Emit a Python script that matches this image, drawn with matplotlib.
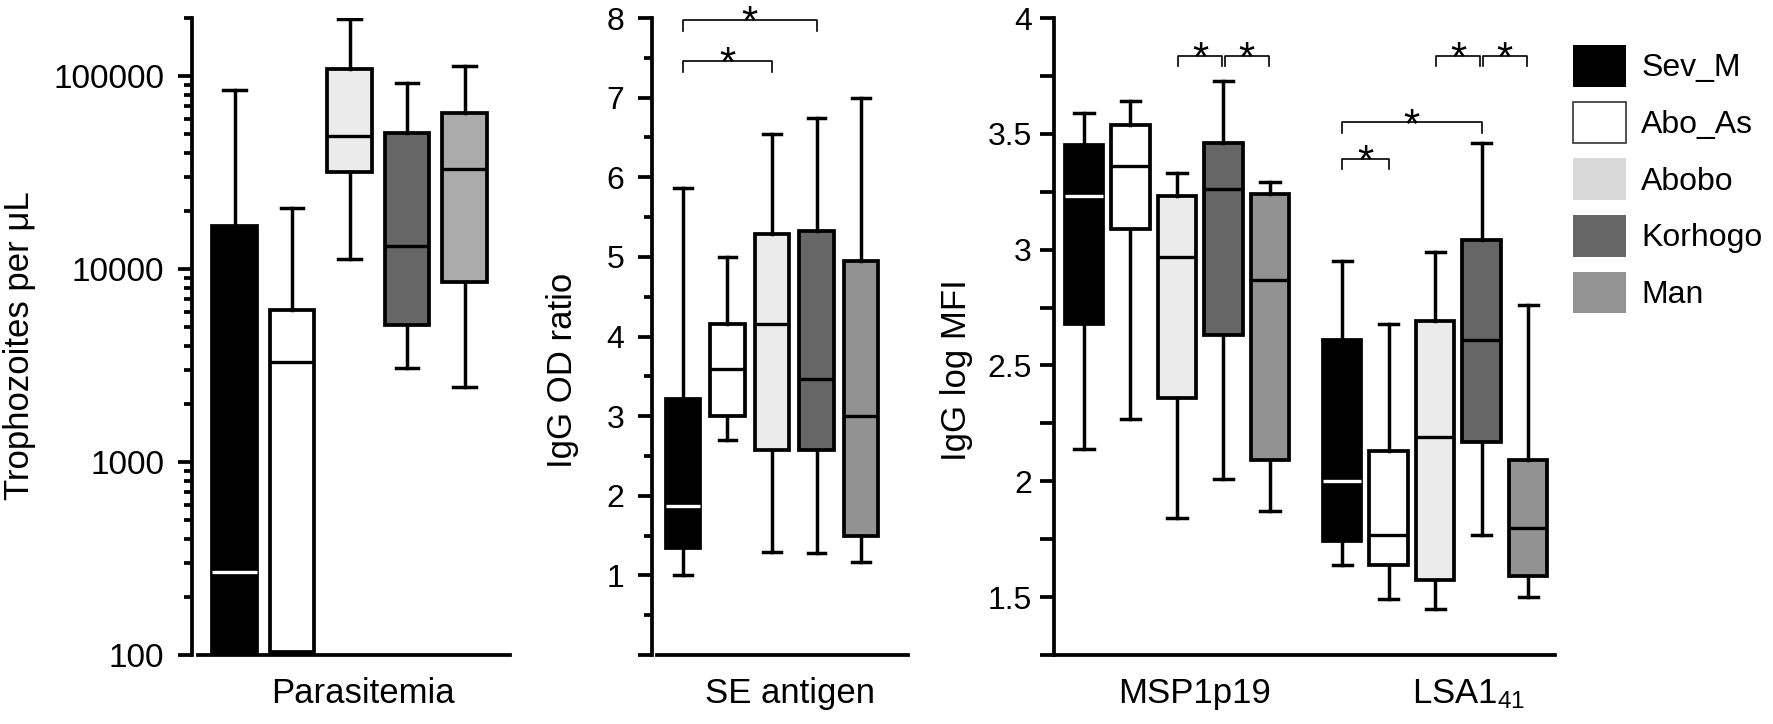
import matplotlib
matplotlib.use("Agg")
import matplotlib.pyplot as plt
from matplotlib.patches import Patch
from matplotlib.ticker import FixedLocator, FuncFormatter, LogLocator, NullFormatter

plt.rcParams['font.family'] = ['Liberation Sans', 'DejaVu Sans']
plt.rcParams['mathtext.fontset'] = 'custom'
plt.rcParams['mathtext.rm'] = 'Liberation Sans'
plt.rcParams['mathtext.it'] = 'Liberation Sans:italic'

# groups and colours
groups = ['Sev_M', 'Abo_As', 'Abobo', 'Korhogo', 'Man']
box_colors = ['#000000', '#ffffff', '#ebebeb', '#666666', '#929292']
box_colors_p1 = ['#000000', '#ffffff', '#ebebeb', '#666666', '#ababab']
legend_colors = ['#000000', '#ffffff', '#d9d9d9', '#666666', '#939393']

# five-number summaries: whislo, q1, median, q3, whishi
parasitemia = [
    [100, 100, 268, 16700, 84700],
    [100, 104, 3300, 6170, 20600],
    [11300, 31700, 49200, 108700, 198000],
    [3070, 5140, 13200, 51000, 92000],
    [2440, 8610, 33000, 64300, 113000],
]
se_antigen = [
    [1.0, 1.35, 1.87, 3.21, 5.87],
    [2.70, 3.00, 3.59, 4.16, 5.00],
    [1.29, 2.58, 4.16, 5.29, 6.54],
    [1.28, 2.58, 3.46, 5.33, 6.75],
    [1.17, 1.50, 3.00, 4.95, 7.00],
]
msp1 = [
    [2.14, 2.68, 3.23, 3.45, 3.59],
    [2.27, 3.09, 3.36, 3.54, 3.64],
    [1.84, 2.36, 2.97, 3.23, 3.33],
    [2.01, 2.63, 3.26, 3.46, 3.73],
    [1.87, 2.09, 2.87, 3.24, 3.29],
]
lsa1 = [
    [1.64, 1.74, 2.00, 2.61, 2.95],
    [1.49, 1.64, 1.77, 2.13, 2.68],
    [1.45, 1.575, 2.19, 2.69, 2.99],
    [1.77, 2.17, 2.61, 3.04, 3.46],
    [1.50, 1.59, 1.80, 2.09, 2.76],
]

# significance brackets: (group a, group b, height)
se_sig = [(0, 2, 7.46), (0, 3, 7.975)]
msp_sig = [(2, 3, 3.838), (3, 4, 3.838)]
lsa_sig = [(0, 1, 3.392), (0, 3, 3.549), (2, 3, 3.838), (3, 4, 3.838)]

W, H = 1773, 724
fig = plt.figure(figsize=(W / 100, H / 100), dpi=100)

LW = 2.7


def to_stats(rows):
    return [dict(whislo=r[0], q1=r[1], med=r[2], q3=r[3], whishi=r[4]) for r in rows]


def draw_boxes(ax, rows, positions, width, colors):
    bp = ax.bxp(to_stats(rows), positions=positions, widths=width,
                patch_artist=True, showfliers=False, manage_ticks=False,
                boxprops=dict(linewidth=LW, edgecolor='black'),
                whiskerprops=dict(linewidth=2.5, color='black'),
                capprops=dict(linewidth=2.5, color='black'),
                medianprops=dict(linewidth=2.4, color='black'))
    for patch, c in zip(bp['boxes'], colors):
        patch.set_facecolor(c)
    bp['medians'][0].set_color('white')
    return bp


def bracket(ax, x1, x2, y, drop, gap=0.0):
    ax.plot([x1 + gap, x1 + gap, x2 - gap, x2 - gap], [y - drop, y, y, y - drop],
            color='black', lw=1.2, clip_on=False)
    ax.annotate('*', xy=((x1 + x2) / 2, y), xytext=(0, -11), textcoords='offset points',
                ha='center', va='baseline', fontsize=30, annotation_clip=False)


def style(ax, offset, ylabel, lab_x, lab_y, tick_size, pad):
    for s in ['top', 'right']:
        ax.spines[s].set_visible(False)
    ax.spines['left'].set_linewidth(LW)
    ax.spines['bottom'].set_linewidth(LW)
    if offset:
        ax.spines['left'].set_position(('outward', offset))
    ax.tick_params(axis='y', which='major', length=10, width=LW, labelsize=tick_size, pad=pad)
    ax.tick_params(axis='y', which='minor', length=5.8, width=LW)
    ax.tick_params(axis='x', length=0, labelsize=25, pad=16)
    ax.set_ylabel(ylabel, fontsize=25)
    ax.yaxis.set_label_coords(lab_x, lab_y)


bottom = 69 / H
height = 637 / H

# panel 1: parasitemia
ax1 = fig.add_axes([198 / W, bottom, 312 / W, height])
ax1.set_yscale('log')
draw_boxes(ax1, parasitemia, range(5), 0.77, box_colors_p1)
ax1.set_ylim(100, 2e5)
ax1.set_xlim(-0.635, 4.79)
ax1.yaxis.set_major_locator(FixedLocator([100, 1000, 10000, 100000]))
ax1.yaxis.set_major_formatter(FuncFormatter(lambda v, p: '%d' % v))
ax1.yaxis.set_minor_locator(LogLocator(base=10, subs=range(2, 10)))
ax1.yaxis.set_minor_formatter(NullFormatter())
ax1.set_xticks([2.24])
ax1.set_xticklabels(['Parasitemia'])
style(ax1, 4.3, 'Trophozoites per \u03bcL', -0.52, 0.485, 24, 10)

# panel 2: SE antigen
ax2 = fig.add_axes([657 / W, bottom, 251 / W, height])
draw_boxes(ax2, se_antigen, range(5), 0.78, box_colors)
ax2.set_ylim(0, 8)
ax2.set_xlim(-0.584, 5.056)
ax2.yaxis.set_major_locator(FixedLocator(range(0, 9)))
ax2.yaxis.set_major_formatter(FuncFormatter(lambda v, p: '' if v == 0 else '%d' % v))
ax2.yaxis.set_minor_locator(FixedLocator([i + 0.5 for i in range(8)]))
ax2.set_xticks([2.4])
ax2.set_xticklabels(['SE antigen'])
style(ax2, 3.6, 'IgG OD ratio', -0.31, 0.447, 23, 10)
for a, b, y in se_sig:
    bracket(ax2, a, b, y, 0.135)

# panel 3: MSP1p19 and LSA1-41
msp_pos = [0, 1, 2, 3, 4]
lsa_pos = [5.55, 6.55, 7.55, 8.55, 9.55]
ax3 = fig.add_axes([1054 / W, bottom, 501 / W, height])
draw_boxes(ax3, msp1, msp_pos, 0.82, box_colors)
draw_boxes(ax3, lsa1, lsa_pos, 0.82, box_colors)
ax3.set_ylim(1.25, 4)
ax3.set_xlim(-0.645, 10.13)
ax3.yaxis.set_major_locator(FixedLocator([1.25, 1.5, 2, 2.5, 3, 3.5, 4]))
ax3.yaxis.set_major_formatter(FuncFormatter(lambda v, p: '' if v == 1.25 else '%g' % v))
ax3.yaxis.set_minor_locator(FixedLocator([1.75, 2.25, 2.75, 3.25, 3.75]))
ax3.set_xticks([2.37, 8.28])
ax3.set_xticklabels(['MSP1p19', r'LSA1$_{\mathregular{41}}$'])
style(ax3, 0, 'IgG log MFI', -0.162, 0.447, 23, 6)
ax3.tick_params(axis='y', which='minor', length=10)
for a, b, y in msp_sig:
    g = 0.03 if (a, b) in [(2, 3), (3, 4)] else 0
    bracket(ax3, msp_pos[a], msp_pos[b], y, 0.045, g)
for a, b, y in lsa_sig:
    g = 0.03 if (a, b) in [(2, 3), (3, 4)] else 0
    bracket(ax3, lsa_pos[a], lsa_pos[b], y, 0.045, g)

# legend
handles = []
for i, c in enumerate(legend_colors):
    if i == 1:
        handles.append(Patch(facecolor=c, edgecolor='#333333', linewidth=1.2))
    else:
        handles.append(Patch(facecolor=c, edgecolor='none'))
fig.legend(handles, groups, loc='upper left', bbox_to_anchor=(1573 / W, 1 - 45 / H),
           frameon=False, fontsize=23, handlelength=1.66, handleheight=1.63,
           labelspacing=0.47, handletextpad=0.47, borderpad=0, borderaxespad=0)

fig.savefig('out.png', dpi=100)
